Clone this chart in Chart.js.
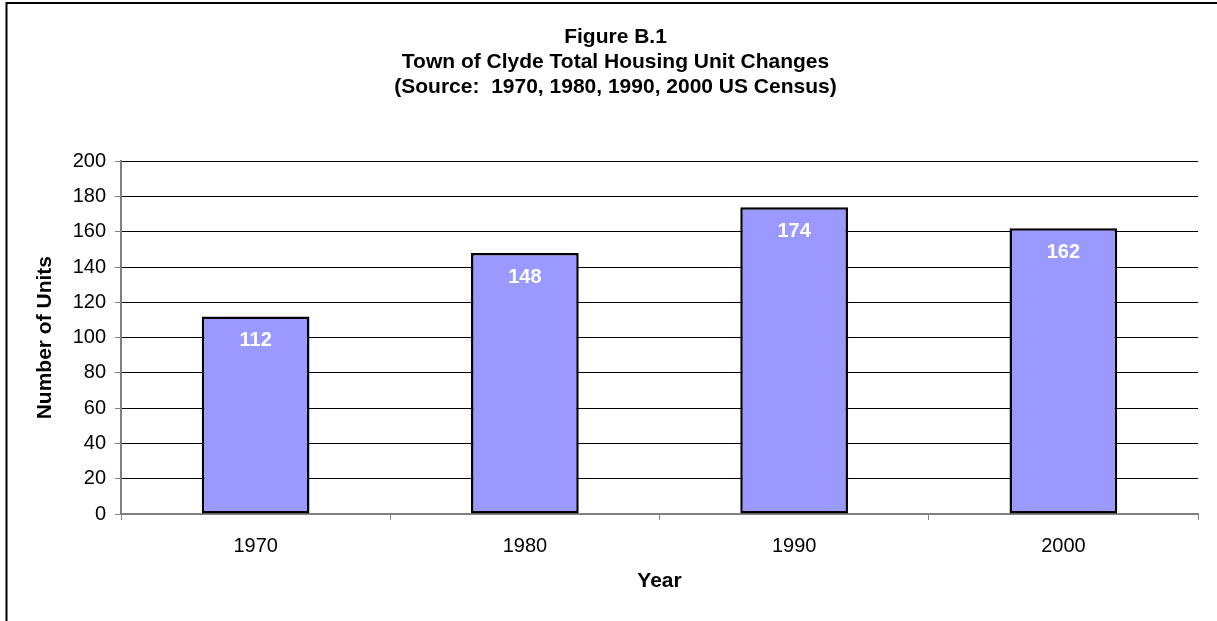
<!DOCTYPE html>
<html>
<head>
<meta charset="utf-8">
<script src="https://cdn.jsdelivr.net/npm/chart.js@4/dist/chart.umd.min.js"></script>
<style>
  html, body { margin: 0; padding: 0; background: #fff; }
  #wrap { width: 1217px; height: 621px; }
</style>
</head>
<body>
<div id="wrap"><canvas id="chart"></canvas></div>
<script>
// chart data
const years = ["1970", "1980", "1990", "2000"];
const units = [112, 148, 174, 162];
const titleLines = ["Figure B.1", "Town of Clyde Total Housing Unit Changes", "(Source:  1970, 1980, 1990, 2000 US Census)"];

const FONT = "Arial, 'Liberation Sans', sans-serif";

// black frame on the left and top edges
const framePlugin = {
  id: "frame",
  beforeDraw(chart) {
    const ctx = chart.ctx;
    ctx.save();
    ctx.fillStyle = "#fff";
    ctx.fillRect(0, 0, chart.width, chart.height);
    ctx.strokeStyle = "#000";
    ctx.lineWidth = 2;
    ctx.beginPath();
    ctx.moveTo(6.5, chart.height);
    ctx.lineTo(6.5, 3);
    ctx.lineTo(chart.width, 3);
    ctx.stroke();
    ctx.restore();
  }
};

// white value labels inside the top of each bar
const valueLabels = {
  id: "valueLabels",
  afterDatasetsDraw(chart) {
    const ctx = chart.ctx;
    const meta = chart.getDatasetMeta(0);
    ctx.save();
    ctx.fillStyle = "#fff";
    ctx.font = "bold 20px " + FONT;
    ctx.textAlign = "center";
    ctx.textBaseline = "middle";
    meta.data.forEach((bar, i) => {
      ctx.fillText(String(units[i]), bar.x, bar.y + 24);
    });
    ctx.restore();
  }
};

new Chart(document.getElementById("chart"), {
  type: "bar",
  data: {
    labels: years,
    datasets: [{
      data: units,
      backgroundColor: "#9999FF",
      borderColor: "#000",
      borderWidth: 2.5,
      borderSkipped: false,
      barPercentage: 0.4,
      categoryPercentage: 1
    }]
  },
  options: {
    responsive: true,
    maintainAspectRatio: false,
    animation: false,
    layout: { padding: { left: 33, right: 19, top: 0, bottom: 0 } },
    plugins: {
      legend: { display: false },
      tooltip: { enabled: false },
      title: {
        display: true,
        text: titleLines,
        color: "#000",
        font: { family: FONT, size: 21, weight: "bold", lineHeight: 1.18 },
        padding: { top: 25, bottom: 62 }
      }
    },
    scales: {
      x: {
        offset: true,
        grid: { offset: true, drawOnChartArea: false, drawTicks: true, tickLength: 6, color: "#808080", lineWidth: 1 },
        border: { color: "#808080", width: 2 },
        ticks: { color: "#000", font: { family: FONT, size: 20 }, padding: 14 },
        title: { display: true, text: "Year", color: "#000", font: { family: FONT, size: 21, weight: "bold" }, padding: { top: 0, bottom: 27 } },
        afterFit(scale) { scale.height = 107; }
      },
      y: {
        min: 0,
        max: 200,
        ticks: { stepSize: 20, color: "#000", font: { family: FONT, size: 20 }, padding: 9 },
        grid: { color: "#000", lineWidth: 1, drawTicks: true, tickLength: 6, tickColor: "#808080" },
        border: { color: "#808080", width: 2 },
        title: { display: true, text: "Number of Units", color: "#000", font: { family: FONT, size: 21, weight: "bold" }, padding: { top: 0, bottom: 0 } },
        afterFit(scale) { scale.width = 88; }
      }
    }
  },
  plugins: [framePlugin, valueLabels]
});
</script>
</body>
</html>
